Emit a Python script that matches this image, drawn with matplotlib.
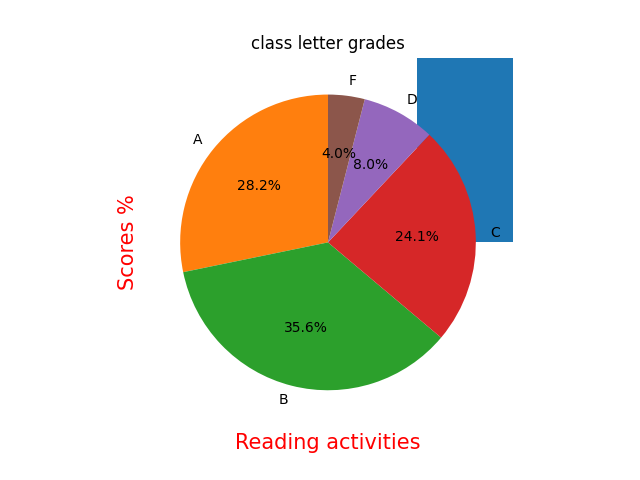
import matplotlib
matplotlib.use("Agg")
import matplotlib.pyplot as plt

grades = ["A", "B", "C", "D", "F"]
shares = [28.2, 35.6, 24.1, 8.0, 4.0]
bar_x = [1]
bar_height = [20]

fig = plt.figure(figsize=(6.4, 4.8), dpi=100)
ax = fig.add_subplot(111)
ax.bar(bar_x, bar_height)
ax.pie(shares, labels=grades, autopct="%1.1f%%", startangle=90)
ax.set_title("class letter grades")
ax.set_xlabel("Reading activities", color="red", fontsize=15)
ax.set_ylabel("Scores %", color="red", fontsize=15)
fig.savefig("out.png")
